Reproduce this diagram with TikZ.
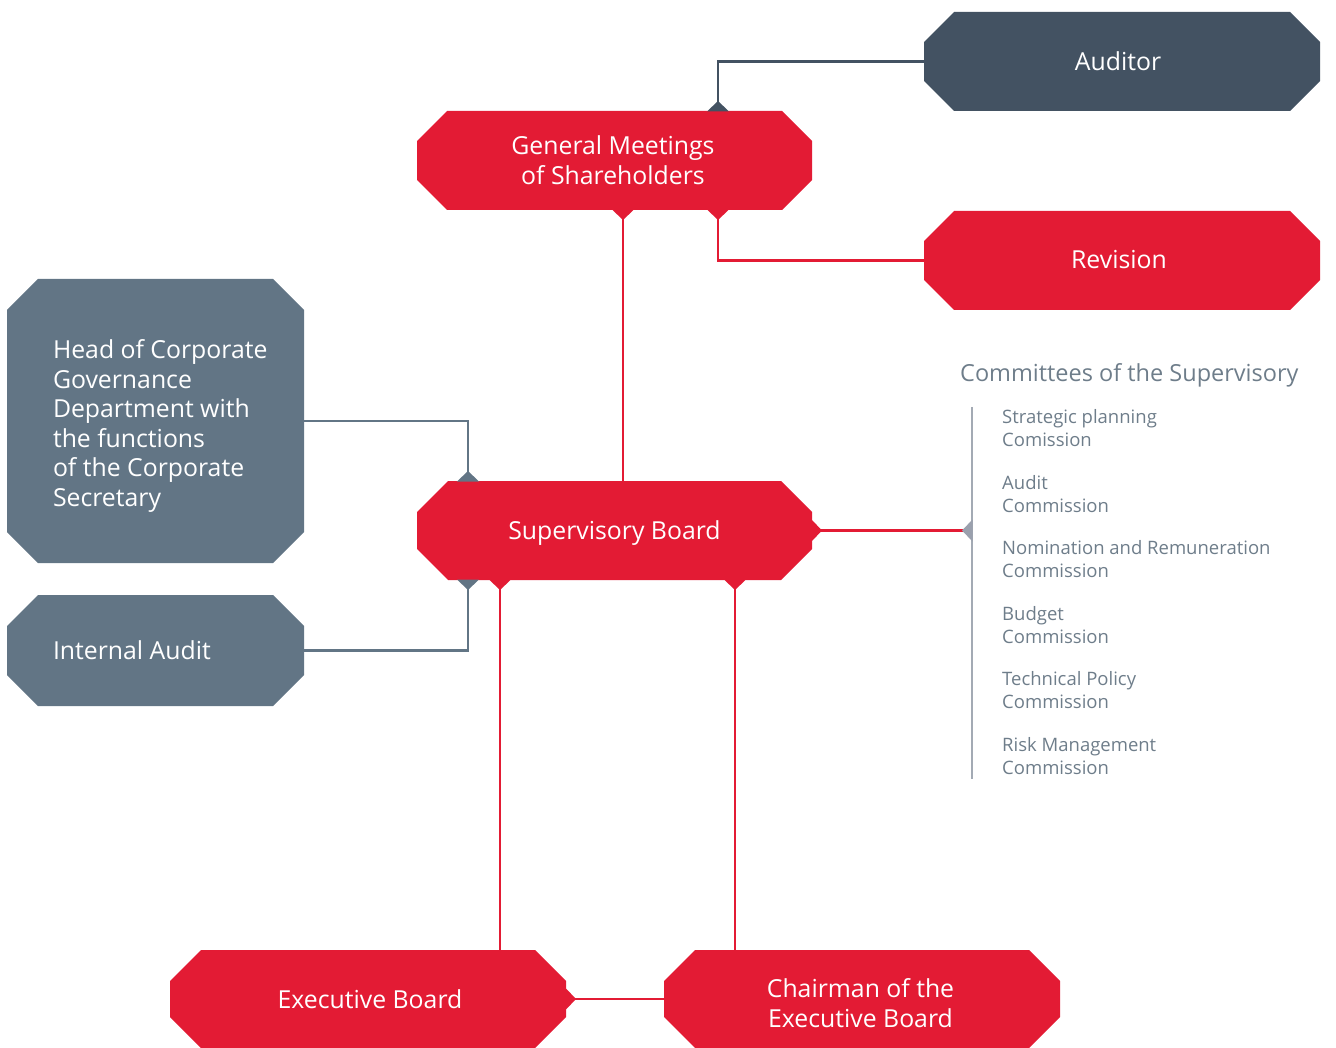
\documentclass[tikz,border=0pt]{standalone}
\usepackage{fontspec}
\setmainfont{Open Sans}
\usetikzlibrary{backgrounds,calc}
\definecolor{cred}{HTML}{E31B34}
\definecolor{cdark}{HTML}{435262}
\definecolor{cslate}{HTML}{627585}
\definecolor{ctext}{HTML}{6E7D8A}
\definecolor{cline}{HTML}{A3AAB4}
\definecolor{cmark}{HTML}{9AA0AD}
\newcommand\octfill[3]{%
  \fill[#2] ($(#1.north west)+(#3,0)$) -- ($(#1.north east)+(-#3,0)$) -- ($(#1.north east)+(0,#3)$) -- ($(#1.south east)+(0,-#3)$) -- ($(#1.south east)+(-#3,0)$) -- ($(#1.south west)+(#3,0)$) -- ($(#1.south west)+(0,-#3)$) -- ($(#1.north west)+(0,#3)$) -- cycle;}
\newcommand\mkup[2]{\fill[#2] ($(#1)+(-11,0.5)$) -- ($(#1)+(0,-10)$) -- ($(#1)+(11,0.5)$) -- cycle;}
\newcommand\mkdown[2]{\fill[#2] ($(#1)+(-11,-0.5)$) -- ($(#1)+(0,10)$) -- ($(#1)+(11,-0.5)$) -- cycle;}
\newcommand\mkright[2]{\fill[#2] ($(#1)+(-0.5,-11)$) -- ($(#1)+(10,0)$) -- ($(#1)+(-0.5,11)$) -- cycle;}
\newcommand\mkleft[2]{\fill[#2] ($(#1)+(0.5,-11)$) -- ($(#1)+(-10,0)$) -- ($(#1)+(0.5,11)$) -- cycle;}
\begin{document}
\begin{tikzpicture}[x=1pt,y=-1pt,
  box/.style={inner sep=0pt,outer sep=0pt},
  onetxt/.style={inner sep=0pt,outer sep=0pt,text=white,text height=17.7pt,text depth=0pt,
    font=\fontsize{24.8}{30}\selectfont},
  twotxt/.style={inner sep=0pt,outer sep=0pt,text=white,align=center,
    font=\fontsize{24.8}{30}\selectfont},
  boxtxt/.style={inner sep=0pt,outer sep=0pt,text=white,align=left,anchor=west,
    font=\fontsize{24.8}{29.6}\selectfont},
  comtitle/.style={inner sep=0pt,anchor=west,text=ctext,font=\fontsize{23.5}{28}\selectfont},
  comitem/.style={inner sep=0pt,anchor=base west,text=ctext,font=\fontsize{18.5}{23}\selectfont},
  redline/.style={draw=cred,line width=2.8pt},
  darkline/.style={draw=cdark,line width=2.6pt},
  slateline/.style={draw=cslate,line width=2.4pt},
  greyline/.style={draw=cline,line width=2pt}]
\useasboundingbox (0,0) rectangle (1336,1048);

% boxes
\node[box,minimum width=396pt,minimum height=99pt] (aud) at (1122,61.5) {};
\node[box,minimum width=395pt,minimum height=99pt] (gm) at (614.5,160.5) {};
\node[box,minimum width=396pt,minimum height=99pt] (rev) at (1122,260.5) {};
\node[box,minimum width=297pt,minimum height=284pt] (head) at (155.5,421) {};
\node[box,minimum width=297pt,minimum height=111pt] (ia) at (155.5,650.5) {};
\node[box,minimum width=395pt,minimum height=99pt] (sb) at (614.5,530.5) {};
\node[box,minimum width=396pt,minimum height=98pt] (eb) at (368,999) {};
\node[box,minimum width=396pt,minimum height=98pt] (ch) at (862,999) {};

\begin{pgfonlayer}{background}
\octfill{aud}{cdark}{30}
\octfill{gm}{cred}{30}
\octfill{rev}{cred}{30}
\octfill{head}{cslate}{31}
\octfill{ia}{cslate}{31}
\octfill{sb}{cred}{31}
\octfill{eb}{cred}{31}
\octfill{ch}{cred}{31}
\end{pgfonlayer}

% box texts
\node[onetxt] (audtxt) at (1118,62) {Auditor};
\node[twotxt] (gmtxt) at (613,160.5) {General Meetings\\of Shareholders};
\node[onetxt] (revtxt) at (1119,259.5) {Revision};
\node[boxtxt] (headtxt) at (53,426) {Head of Corporate\\Governance\\Department with\\the functions\\of the Corporate\\Secretary};
\node[onetxt,anchor=west] (iatxt) at (53,650.5) {Internal Audit};
\node[onetxt] (sbtxt) at (614.5,530.5) {Supervisory Board};
\node[onetxt] (ebtxt) at (370,999.5) {Executive Board};
\node[twotxt] (chtxt) at (860.5,1003.5) {Chairman of the\\Executive Board};

% connection points
\coordinate (gmT) at (718,111);
\coordinate (gmB1) at (623,210);
\coordinate (gmB2) at (718,210);
\coordinate (sbT) at (468,481);
\coordinate (sbB1) at (468,580);
\coordinate (sbB2) at (500,580);
\coordinate (sbB3) at (735,580);
\coordinate (com) at (972,530.5);
\coordinate (comtop) at (972,407);
\coordinate (combot) at (972,779);

% connectors
\draw[darkline] (aud.west) -| (gmT);
\draw[redline] (gmB2) |- (rev.west);
\draw[redline] (gmB1) -- (gmB1 |- sb.north);
\draw[slateline] (head.east) -| (sbT);
\draw[slateline] (ia.east) -| (sbB1);
\draw[redline] (sbB2) -- (sbB2 |- eb.north);
\draw[redline] (sbB3) -- (sbB3 |- ch.north);
\draw[redline] (sb.east) -- (com);
\draw[redline] (eb.east) -- (ch.west);
\draw[greyline] (comtop) -- (combot);

% markers
\mkup{gmT}{cdark}
\mkdown{gmB1}{cred}
\mkdown{gmB2}{cred}
\mkup{sbT}{cslate}
\mkdown{sbB1}{cslate}
\mkdown{sbB2}{cred}
\mkdown{sbB3}{cred}
\mkright{sb.east}{cred}
\mkleft{com}{cmark}
\mkright{eb.east}{cred}

% committees
\node[comtitle] (ctitle) at (960,375) {Committees of the Supervisory};
\node[comitem] (c1a) at (1002,423.5) {Strategic planning};
\node[comitem] (c1b) at (1002,446.5) {Comission};
\node[comitem] (c2a) at (1002,489) {Audit};
\node[comitem] (c2b) at (1002,512) {Commission};
\node[comitem] (c3a) at (1002,554.5) {Nomination and Remuneration};
\node[comitem] (c3b) at (1002,577.5) {Commission};
\node[comitem] (c4a) at (1002,620) {Budget};
\node[comitem] (c4b) at (1002,643) {Commission};
\node[comitem] (c5a) at (1002,685.5) {Technical Policy};
\node[comitem] (c5b) at (1002,708.5) {Commission};
\node[comitem] (c6a) at (1002,751) {Risk Management};
\node[comitem] (c6b) at (1002,774) {Commission};
\end{tikzpicture}
\end{document}
